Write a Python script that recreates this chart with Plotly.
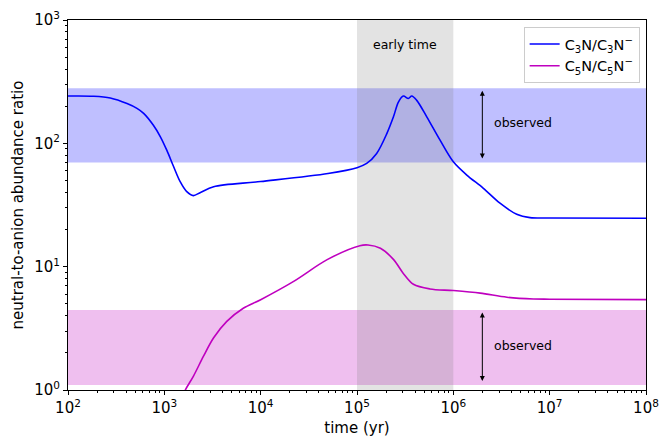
import plotly.graph_objects as go
import math

# ---- data ----
c3_time = [1e2, 1.85e2, 2.75e2, 4.1e2, 5.2e2, 6.1e2, 7.7e2, 9.1e2, 1.06e3, 1.25e3, 1.46e3,
           1.71e3, 2.0e3, 2.35e3, 3.25e3, 1e4, 5e4, 1e5, 1.26e5, 1.6e5, 2.04e5, 2.39e5,
           2.69e5, 3.03e5, 3.41e5, 3.7e5, 4.17e5, 5.3e5, 7.28e5, 1e6, 1.38e6, 2.05e6,
           3.05e6, 4.55e6, 6.25e6, 1e7, 1e8]
c3_ratio = [242, 241, 233, 210, 192, 175, 140, 113, 88, 64.6, 48.9,
            40.6, 37.7, 39.8, 44.5, 49, 57, 63.5, 68.7, 82.8, 120, 164,
            216, 242, 231, 242, 223, 164, 106, 70.8, 55.3, 43.2,
            32.7, 26.6, 25, 24.8, 24.7]

c5_time = [1.45e3, 1.65e3, 2.0e3, 2.55e3, 3.25e3, 4.45e3, 6.6e3, 1e4, 2.2e4, 4.9e4, 1.07e5,
           1.3e5, 1.75e5, 2.4e5, 3.0e5, 3.85e5, 5.7e5, 1e6, 1.9e6, 3.6e6, 6.8e6, 1e7, 1e8]
c5_ratio = [0.8, 1.0, 1.29, 1.88, 2.65, 3.6, 4.6, 5.4, 7.6, 11.4, 14.8,
            15.0, 14.1, 11.4, 8.9, 7.2, 6.6, 6.4, 6.1, 5.65, 5.47, 5.45, 5.4]

c3_observed = [70, 280]
c5_observed = [1.1, 4.45]
early_time = [1e5, 1e6]
arrow_time = 2e6
label_time = 2.5e6

x_ticks = [1e2, 1e3, 1e4, 1e5, 1e6, 1e7, 1e8]
x_ticktext = ["10<sup>2</sup>", "10<sup>3</sup>", "10<sup>4</sup>", "10<sup>5</sup>",
              "10<sup>6</sup>", "10<sup>7</sup>", "10<sup>8</sup>"]
y_ticks = [1, 10, 100, 1000]
y_ticktext = ["10<sup>0</sup>", "10<sup>1</sup>", "10<sup>2</sup>", "10<sup>3</sup>"]

series_names = ["C<sub>3</sub>N/C<sub>3</sub>N<sup>\u2212</sup>",
                "C<sub>5</sub>N/C<sub>5</sub>N<sup>\u2212</sup>"]
series_colors = ["#0000ff", "#bf00bf"]

FONT = "DejaVu Sans"


def minor_vals(lo_exp, hi_exp):
    return [m * 10 ** e for e in range(lo_exp, hi_exp) for m in range(2, 10)]


fig = go.Figure()
fig.add_trace(go.Scatter(x=c3_time, y=c3_ratio, mode="lines", name=series_names[0],
                         line=dict(color=series_colors[0], width=1.6, shape="spline", smoothing=0.9)))
fig.add_trace(go.Scatter(x=c5_time, y=c5_ratio, mode="lines", name=series_names[1],
                         line=dict(color=series_colors[1], width=1.6, shape="spline", smoothing=0.9)))

# bands
fig.add_shape(type="rect", xref="paper", yref="y", x0=0, x1=1,
              y0=c3_observed[0], y1=c3_observed[1],
              fillcolor="rgba(0,0,255,0.25)", line=dict(width=0), layer="below")
fig.add_shape(type="rect", xref="paper", yref="y", x0=0, x1=1,
              y0=c5_observed[0], y1=c5_observed[1],
              fillcolor="rgba(191,0,191,0.25)", line=dict(width=0), layer="below")
fig.add_shape(type="rect", xref="x", yref="paper", x0=early_time[0], x1=early_time[1],
              y0=0, y1=1, fillcolor="rgba(128,128,128,0.22)", line=dict(width=0), layer="below")

# arrows + labels (annotations on log axes use log10 coordinates)
for lo, hi in (c3_observed, c5_observed):
    pad = 0.02
    fig.add_annotation(x=math.log10(arrow_time), y=math.log10(hi) - pad,
                       ax=math.log10(arrow_time), ay=math.log10(lo) + pad,
                       xref="x", yref="y", axref="x", ayref="y",
                       showarrow=True, arrowhead=2, startarrowhead=2, arrowside="end+start",
                       arrowsize=1, arrowwidth=1, arrowcolor="black", text="")
    fig.add_annotation(x=math.log10(label_time), y=(math.log10(lo) + math.log10(hi)) / 2 + 0.02,
                       xref="x", yref="y", text="observed", showarrow=False,
                       xanchor="left", yanchor="middle",
                       font=dict(family=FONT, size=12.5, color="black"))

fig.add_annotation(x=(math.log10(early_time[0]) + math.log10(early_time[1])) / 2, y=math.log10(630),
                   xref="x", yref="y", text="early time", showarrow=False,
                   font=dict(family=FONT, size=12.5, color="black"))

axis_common = dict(type="log", showgrid=False, zeroline=False, showline=True,
                   linecolor="black", linewidth=1, mirror=True, automargin=False,
                   ticks="outside", ticklen=4, tickwidth=1, tickcolor="black",
                   tickmode="array",
                   tickfont=dict(family=FONT, size=15, color="black"))

fig.update_xaxes(range=[2, 8], tickvals=x_ticks, ticktext=x_ticktext,
                 minor=dict(tickmode="array", tickvals=minor_vals(2, 8), ticks="outside",
                            ticklen=2, tickcolor="black", showgrid=False),
                 title=dict(text="time (yr)", font=dict(family=FONT, size=15), standoff=6),
                 **axis_common)
fig.update_yaxes(range=[0, 3], tickvals=y_ticks, ticktext=y_ticktext,
                 minor=dict(tickmode="array", tickvals=minor_vals(0, 3), ticks="outside",
                            ticklen=2, tickcolor="black", showgrid=False),
                 title=dict(text="neutral-to-anion abundance ratio",
                            font=dict(family=FONT, size=15), standoff=6),
                 **axis_common)

fig.update_layout(
    width=662, height=437,
    margin=dict(l=68, r=16, t=20, b=47),
    plot_bgcolor="white", paper_bgcolor="white",
    font=dict(family=FONT, color="black"),
    legend=dict(x=0.989, y=0.981, xanchor="right", yanchor="top",
                bgcolor="rgba(255,255,255,0.8)", bordercolor="#cccccc", borderwidth=1,
                itemwidth=30, tracegroupgap=4,
                font=dict(family=FONT, size=14.5)),
)

fig.write_html("out.html", config={"displayModeBar": False},
               post_script="document.body.style.margin='0';document.body.style.overflow='hidden';")
